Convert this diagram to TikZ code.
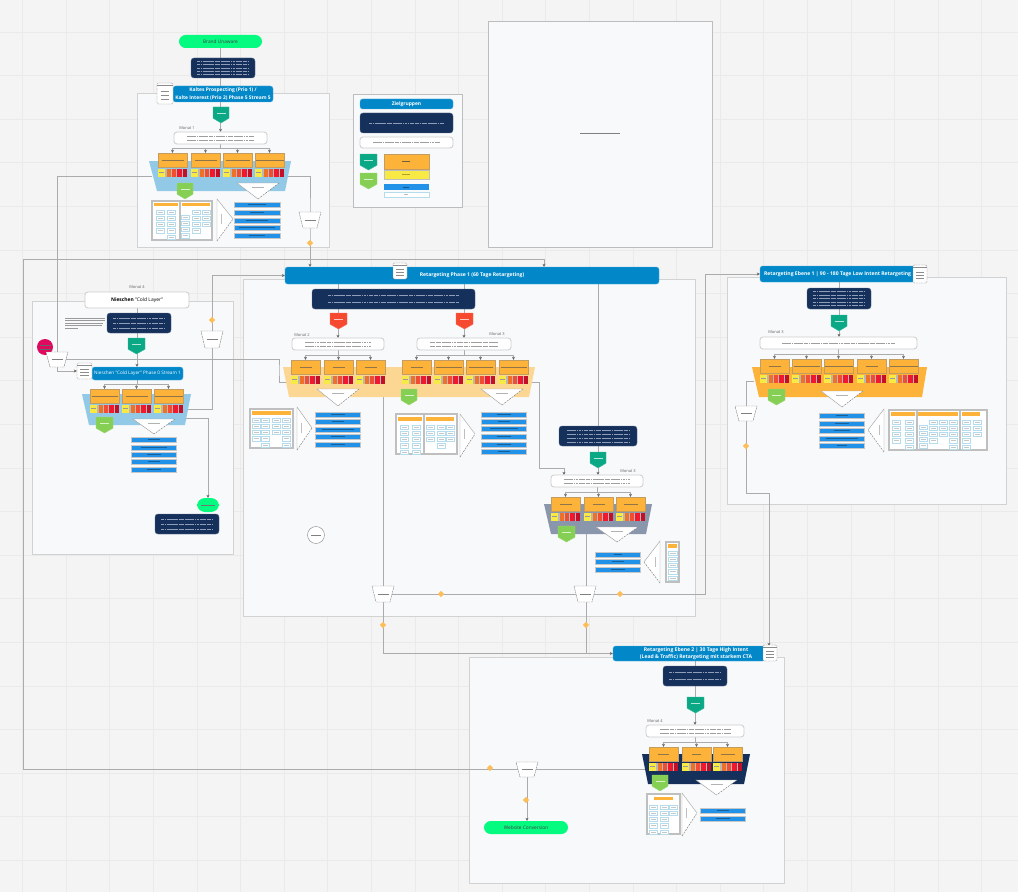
\documentclass[tikz,border=0pt]{standalone}
\usepackage{fontspec}
\setmainfont{Open Sans}
\usetikzlibrary{arrows.meta}
\pgfdeclarelayer{bg}\pgfdeclarelayer{lines}
\pgfsetlayers{bg,lines,main}
\definecolor{gridc}{HTML}{EAEAEA}\definecolor{paper}{HTML}{F4F4F4}
\definecolor{framef}{HTML}{F8F9FB}\definecolor{framed}{HTML}{D2D2D2}
\definecolor{navyc}{HTML}{15305A}\definecolor{titlec}{HTML}{0288C9}
\definecolor{teal}{HTML}{0BA886}\definecolor{lgreen}{HTML}{86CF55}
\definecolor{redsh}{HTML}{F64A30}\definecolor{orangec}{HTML}{FDB23A}
\definecolor{orangeb}{HTML}{C29C60}\definecolor{barb}{HTML}{2292E8}
\definecolor{pillg}{HTML}{05FA80}\definecolor{pinkc}{HTML}{DF0A5F}
\definecolor{lnc}{HTML}{ABABAB}\definecolor{ltxt}{HTML}{8F9DB8}
\definecolor{yel}{HTML}{F8E944}\definecolor{cellb}{HTML}{B5DCEC}
\tikzset{
 HTML/.code={\definecolor{tmpc}{HTML}{#1}\pgfkeysalso{color=tmpc}},
 every node/.style={inner sep=0pt,outer sep=0pt,align=center},
 frame/.style={fill=framef,draw=framed,line width=.7pt},
 navybox/.style={fill=navyc,rounded corners=2.2pt,draw=navyc!70!white,line width=.3pt},
 titlebar/.style={fill=titlec,rounded corners=2pt,draw=titlec!70!white,line width=.3pt,text=white,font=\fontsize{3.8}{5.2}\selectfont\bfseries},
 whitebox/.style={fill=white,rounded corners=2.2pt,draw=black!20!white,line width=.6pt},
 pillbox/.style={fill=pillg,rounded corners=5pt,draw=none,font=\fontsize{3.6}{5}\selectfont,text=black!75},
 cardbox/.style={fill=orangec,draw=orangeb,line width=.6pt},
 ln/.style={draw=lnc,line width=.75pt},
 arr/.style={draw=lnc,line width=.75pt,-{Stealth[length=2.4pt,width=2.2pt,color=black!60]}},
 docshape/.style={fill=white,draw=black!45,line width=.3pt,dash pattern=on 1.5pt off .5pt,rounded corners=1pt},
 mon/.style={font=\fontsize{3}{3.5}\selectfont,text=black!60},
 greek/.style={line width=.6pt,dash pattern=on 2.1pt off .4pt on 1.2pt off .4pt on 3pt off .4pt on .9pt off .4pt},
}
\newcommand{\bx}[7]{\node[#2,minimum width={(#5-#3)*0.75pt},minimum height={(#6-#4)*0.75pt}] (#1) at ({(#3+#5)/2},{(#4+#6)/2}) {#7};}
\newcommand{\tline}[4]{\draw[draw=#4,line width=.55pt] ({#1-(#3)/2},#2) -- ({#1+(#3)/2},#2);}
\newcommand{\navy}[6]{\bx{#1}{navybox}{#2}{#3}{#4}{#5}{}
 \foreach \k in {1,...,#6}{\draw[ltxt,greek] ({#2+(#4-#2)*.1},{#3+(#5-#3)*\k/(#6+1)}) -- ({#4-(#4-#2)*.1},{#3+(#5-#3)*\k/(#6+1)});}}
\newcommand{\wbox}[6]{\bx{#1}{whitebox}{#2}{#3}{#4}{#5}{}
 \foreach \k in {1,...,#6}{\draw[black!38,greek] ({#2+(#4-#2)*.14},{#3+(#5-#3)*\k/(#6+1)}) -- ({#4-(#4-#2)*.14},{#3+(#5-#3)*\k/(#6+1)});}}
\newcommand{\card}[4]{\bx{#1}{cardbox}{#2}{#3}{#2+29}{#3+14.5}{}
 \tline{#2+14.5}{#3+7.2}{#4}{black!25!orangeb}
 \fill[lnc!85!white] (#2,#3+15.6) rectangle (#2+29.3,#3+24.2);
 \fill[yel] (#2+.3,#3+16) rectangle (#2+7.3,#3+23.8);
 \draw[black!40,line width=.35pt] (#2+1.3,#3+18.8) -- (#2+5.6,#3+18.8);
 \fill[HTML=F07028] (#2+8.7,#3+16) rectangle (#2+12.7,#3+23.8);
 \fill[HTML=F04E30] (#2+14,#3+16) rectangle (#2+18.2,#3+23.8);
 \fill[HTML=F0182E] (#2+19.3,#3+16) rectangle (#2+23.7,#3+23.8);
 \fill[HTML=C40F28] (#2+25,#3+16) rectangle (#2+29,#3+23.8);}
\newcommand{\tz}[7]{\fill[#1] (#2,#4) -- (#3,#4) -- (#6,#7) -- (#5,#7) -- cycle;}
\newcommand{\shield}[6]{\fill[#6,draw=#6!80!white,line width=.3pt] (#2,#3) -- (#4,#3) -- (#4,{#5-(#5-#3)*.3}) -- ({(#2+#4)/2},#5) -- (#2,{#5-(#5-#3)*.3}) -- cycle;
 \coordinate (#1) at ({(#2+#4)/2},{(#3+#5)/2});
 \draw[white!70!#6,line width=.55pt] ({(#2+#4)/2-4.5},{#3+(#5-#3)*.38}) -- ({(#2+#4)/2+4.5},{#3+(#5-#3)*.38});}
\newcommand{\dtri}[4]{\fill[white] (#1,#3) -- (#2,#3) -- ({(#1+#2)/2},#4) -- cycle;
 \draw[black!35,line width=.35pt] ({(#1+#2)/2},#4) -- (#1,#3) -- (#2,#3);
 \draw[black!50,line width=.35pt,dash pattern=on 1.5pt off .8pt] (#2,#3) -- ({(#1+#2)/2},#4);
 \tline{(#1+#2)/2}{#3+4.5}{12}{black!30}}
\newcommand{\sidetri}[5]{\fill[white] (#1,#2) -- (#1,#3) -- (#4,#5) -- cycle;
 \draw[black!35,line width=.35pt] (#1,#3) -- (#1,#2) -- (#4,#5);
 \draw[black!50,line width=.35pt,dash pattern=on 1.5pt off .8pt] (#1,#3) -- (#4,#5);
 \draw[black!25,line width=.6pt] ({#1+(#4-#1)*.28},{#5-5}) -- ({#1+(#4-#1)*.28},{#5+5});}
\newcommand{\bars}[3]{\foreach \yy/\ll in {#3}{\fill[barb,draw=black!22,line width=.3pt] (#1,\yy) rectangle (#2,\yy+5.6);
 \draw[black!35!barb,line width=.55pt] ({(#1+#2)/2-\ll/2},\yy+2.8) -- ({(#1+#2)/2+\ll/2},\yy+2.8);}}
\newcommand{\funnel}[4]{\fill[white] ({#2-11},#3) -- ({#2+11},#3) -- ({#2+7},#4) -- ({#2-7},#4) -- cycle;
 \draw[black!45,line width=.35pt,dash pattern=on 1.5pt off .5pt] ({#2-11},#3) -- ({#2+11},#3) -- ({#2+7},#4) -- ({#2-7},#4) -- cycle;
 \coordinate (#1) at (#2,{(#3+#4)/2});
 \tline{#2}{{(#3+#4)/2}}{11}{black!50}}
\newcommand{\dia}[3]{\fill[orangec!85!white] (#2-3.2,#3) -- (#2,#3-3.2) -- (#2+3.2,#3) -- (#2,#3+3.2) -- cycle;\coordinate (#1) at (#2,#3);}
\newcommand{\docic}[5]{\bx{#1}{docshape}{#2}{#3}{#4}{#5}{}
 \draw[black!45,line width=.3pt] (#2,#3+2) -- (#4,#3+2);
 \foreach \k in {.4,.58,.76}{\draw[black!45,line width=.5pt] ({#2+(#4-#2)*.22},{#3+(#5-#3)*\k}) -- ({#4-(#4-#2)*.22},{#3+(#5-#3)*\k});}}
\newcommand{\board}[4]{\fill[white,draw=black!25,line width=.8pt] (#1,#2) rectangle (#3,#4);}
\newcommand{\bdiv}[3]{\draw[black!25,line width=.8pt] (#1,#2) -- (#1,#3);}
\newcommand{\obar}[4]{\fill[orangec] (#1,#2) rectangle (#3,#4);}
\newcommand{\cellcol}[5]{\foreach \k in {1,...,#4}{\draw[cellb,fill=white,line width=.45pt] (#1,{#2+(\k-1)*6.2}) rectangle (#1+#3,{#2+(\k-1)*6.2+4.3});
 \draw[black!22,line width=.4pt] (#1+1.5,{#2+(\k-1)*6.2+2.1}) -- (#1+#3-1.5,{#2+(\k-1)*6.2+2.1});}}
\newcommand{\bus}[3]{\foreach \c in {#3}{\draw[arr] (#1.south) -- (#1.south |- 0,#2) -| (\c.north);}}
\begin{document}
\begin{tikzpicture}[x=0.75pt,y=-0.75pt]
\useasboundingbox (0,0) rectangle (1018,892);
\begin{pgfonlayer}{bg}
\fill[paper] (0,0) rectangle (1018,892);
\foreach \i in {0,...,23}{\draw[gridc,line width=.6pt] ({22.5+43.6*\i},0) -- ({22.5+43.6*\i},892);}
\foreach \i in {0,...,20}{\draw[gridc,line width=.6pt] (0,{32+43.6*\i}) -- (1018,{32+43.6*\i});}
\bx{fr1}{frame}{137}{93}{329}{247}{}
\bx{fr2}{frame}{32}{301}{233}{554}{}
\bx{fr3}{frame}{243}{279}{695}{616}{}
\bx{fr4}{frame}{727}{277}{1006}{504}{}
\bx{fr5}{frame}{469}{657}{784}{883}{}
\bx{frL}{frame,draw=black!26}{353}{94}{462}{207}{}
\bx{frB}{frame,draw=black!26}{488}{21}{712}{247}{}
\end{pgfonlayer}
% big empty frame
\tline{600}{133}{40}{black!50}
% legend
\bx{lz}{titlebar,font=\fontsize{3.7}{5}\selectfont\bfseries}{360}{99}{453}{109}{Zielgruppen}
\navy{ln}{360}{113}{453}{133}{1}
\wbox{lw}{360}{137}{453}{148}{1}
\shield{ls1}{360}{154}{377}{170}{teal}
\shield{ls2}{360}{173}{377}{189}{lgreen}
\bx{lo}{cardbox}{384}{154}{429}{169}{}\tline{406}{161.5}{8}{black!40!orangeb}
\bx{ly}{fill=yel,draw=black!25}{384}{170}{429}{179}{}\tline{406}{174.5}{8}{black!30!yel}
\bx{lb}{fill=barb}{384}{184}{429}{190}{}\tline{406}{187}{6}{black!40!barb}
\bx{lwb}{fill=white,draw=cellb}{384}{192}{429}{197}{}\tline{406}{194.5}{4}{black!25}
% ---- block 1
\bx{pillA}{pillbox}{179}{35}{262}{48}{Brand Unaware}
\navy{nv1}{191}{58}{255}{78}{5}
\bx{t1}{titlebar,font=\fontsize{3.7}{5.3}\selectfont\bfseries}{173}{86}{273}{102}{Kaltes Prospecting (Prio 1) /\\Kalte Interest (Prio 2) Phase 5 Stream 5}
\docic{doc1}{157}{83}{173}{104}
\shield{s1}{213}{107}{229}{123}{teal}
\node[mon] (m1) at (187,128.5) {Monat 1};
\wbox{b1}{174}{132}{267}{144}{2}
\tz{HTML=92C9E6}{149}{291}{161}{157}{285}{191}
\coordinate (tz1w) at (152,176);\coordinate (tz1e) at (286,176);
\card{c11}{158}{153}{22}\card{c12}{191}{153}{22}\card{c13}{223}{153}{24}\card{c14}{255}{153}{28}
\shield{g1}{177}{183}{193}{199}{lgreen}
\dtri{237}{279}{183}{199}
\board{152}{201}{212}{240}\bdiv{180}{201}{240}
\obar{154}{203}{178}{206}\obar{182}{203}{210}{206}
\cellcol{156}{210}{8}{4}{}\cellcol{167}{210}{8}{5}{}\cellcol{181}{215}{8}{4}{}\cellcol{192}{210}{8}{4}{}\cellcol{202}{210}{8}{3}{}
\sidetri{217}{199}{241}{233}{219}
\bars{234}{280}{202/18,210/14,218/22,225/36,233/16}
\funnel{fn1}{310}{212}{228}
\dia{d1}{310}{243}
% ---- block Nieschen
\node[mon] (m4) at (137,287.5) {Monat 4};
\bx{bN}{whitebox,font=\fontsize{3.7}{5}\selectfont}{85}{292}{189}{308}{\textbf{Nieschen} "Cold Layer"}
\navy{nvN}{107}{313}{171}{333}{3}
\foreach \yy/\xx in {318/105,320.5/105,323/103,325.5/102,328/78}{\draw[black!40,line width=.55pt] (65,\yy) -- (\xx,\yy);}
\shield{sN}{128}{338}{145}{354}{teal}
\fill[pinkc] (45,347) circle (8);\coordinate (pk) at (45,347);
\tline{45}{345}{11}{black!60}\tline{45}{349}{11}{black!60}
\funnel{fnA}{57}{352}{367}
\bx{tN}{titlebar,font=\fontsize{3.5}{5}\selectfont}{92}{367}{183}{380}{Nieschen "Cold Layer" Phase 0 Stream 1}
\docic{docN}{77}{363}{92}{379}
\tz{HTML=92C9E6}{82}{191}{394}{89}{185}{425}
\coordinate (tzNe) at (188,409);\coordinate (tzNf) at (185,418);
\card{c41}{90}{389}{26}\card{c42}{122}{389}{22}\card{c43}{154}{389}{28}
\shield{gN}{96}{417}{113}{433}{lgreen}
\dtri{133}{175}{419}{434}
\bars{131}{176}{437/12,445/26,452/14,459/12,467/14}
\funnel{fnE}{212}{331}{348}
\dia{d2}{212}{320}
\bx{pillN}{pillbox,rounded corners=6pt}{197}{498}{219}{512}{}\tline{208}{505}{14}{black!55}
\navy{nvN2}{155}{514}{219}{534}{3}
% ---- block Retargeting Phase 1
\bx{t2}{titlebar}{285}{267}{659}{284}{Retargeting Phase 1 (60 Tage Retargeting)}
\docic{doc2}{393}{263}{407}{279}
\navy{nv2}{312}{289}{475}{309}{2}
\shield{r1}{330}{313}{347}{329}{redsh}
\shield{r2}{456}{313}{473}{329}{redsh}
\node[mon] (m2) at (302,335.5) {Monat 2};
\node[mon] (m3) at (497,334.5) {Monat 3};
\wbox{b2}{292}{338}{384}{350}{2}
\wbox{b3}{417}{338}{511}{350}{2}
\tz{HTML=FCD794}{283}{535}{367}{289}{529}{397}
\coordinate (tzOw) at (286,382);\coordinate (tzOe) at (530,382);\coordinate (tzOb) at (383,397);
\card{c21}{291}{360}{12}\card{c22}{324}{360}{12}\card{c23}{356}{360}{12}
\card{c31}{402}{360}{12}\card{c32}{434}{360}{26}\card{c33}{466}{360}{24}\card{c34}{499}{360}{26}
\dtri{317}{359}{389}{406}\dtri{481}{523}{389}{405}
\shield{g2}{401}{389}{417}{405}{lgreen}
\board{250}{409}{293}{448}\obar{252}{411}{291}{415}
\cellcol{252}{418}{8}{4}{}\cellcol{261}{418}{8}{5}{}\cellcol{272}{418}{8}{3}{}\cellcol{282}{418}{8}{5}{}
\sidetri{297}{407}{450}{312}{428}
\bars{315}{360}{412/14,419/12,427/32,434/14,442/14}
\board{396}{414}{457}{454}\bdiv{424}{414}{454}
\obar{398}{417}{422}{421}\obar{426}{417}{454}{421}
\cellcol{400}{425}{8}{5}{}\cellcol{412}{425}{8}{5}{}\cellcol{426}{425}{8}{3}{}\cellcol{437}{425}{8}{4}{}\cellcol{446}{425}{8}{3}{}
\sidetri{460}{414}{457}{475}{434}
\bars{481}{526}{412/14,419/12,426/28,434/14,442/14,449/12}
\draw[black!45,fill=white,line width=.35pt] (316,535) circle (8.5);\coordinate (circ) at (316,535);
\tline{316}{535}{10}{black!50}
% ---- block Monat 3 (gray)
\navy{nv4}{559}{426}{637}{446}{4}
\shield{s4}{590}{452}{606}{468}{teal}
\node[mon] (m5) at (628,471.5) {Monat 3};
\wbox{b4}{551}{475}{643}{487}{2}
\tz{HTML=8A96AB}{544}{652}{504}{551}{646}{534}
\coordinate (tz4b) at (586,534);
\card{c51}{551}{497}{12}\card{c52}{584}{497}{12}\card{c53}{616}{497}{14}
\shield{g4}{558}{526}{575}{542}{lgreen}
\dtri{596}{638}{527}{542}
\bars{595}{640}{552/8,559/12,567/14}
\sidetri{660}{541}{583}{644}{562}
\board{666}{542}{679}{582}\obar{668}{544}{677}{548}\cellcol{668}{551}{9}{5}{}
\funnel{fnH}{383}{586}{602}\funnel{fn3}{585}{586}{602}
\dia{d3}{441}{594}\dia{d4}{620}{594}\dia{d5}{383}{625}\dia{d6}{586}{625}
% ---- block Ebene 1
\bx{t3}{titlebar}{760}{266}{915}{282}{Retargeting Ebene 1 | 90 - 180 Tage Low Intent Retargeting}
\docic{doc3}{913}{265}{927}{283}
\navy{nv3}{807}{288}{871}{309}{5}
\shield{s3}{831}{315}{847}{331}{teal}
\node[mon] (m6) at (776,332.5) {Monat 3};
\wbox{b5}{760}{337}{917}{349}{1}
\tz{orangec}{752}{927}{367}{759}{922}{397}
\coordinate (tz3w) at (754,381);
\card{c61}{760}{359}{12}\card{c62}{792}{359}{26}\card{c63}{824}{359}{28}\card{c64}{857}{359}{12}\card{c65}{889}{359}{28}
\shield{g3}{768}{389}{785}{405}{lgreen}
\dtri{821}{863}{391}{407}
\bars{819}{864}{413/12,421/14,428/16,436/32,443/10}
\sidetri{884}{409}{452}{868}{430}
\board{889}{410}{987}{450}\bdiv{917}{410}{450}\bdiv{960}{410}{450}
\obar{891}{412}{915}{416}\obar{918}{412}{958}{416}\obar{962}{412}{980}{416}
\cellcol{892}{420}{8}{4}{}\cellcol{905}{420}{8}{5}{}\cellcol{919}{425}{8}{4}{}\cellcol{929}{420}{8}{4}{}\cellcol{939}{420}{8}{3}{}\cellcol{949}{420}{8}{5}{}\cellcol{962}{420}{8}{5}{}\cellcol{973}{420}{8}{3}{}
\funnel{fnJ}{746}{406}{421}
\dia{d7}{746}{446}
% ---- block Ebene 2
\bx{t4}{titlebar}{613}{646}{765}{661}{}
\node[text=white,font=\fontsize{3.8}{5.2}\selectfont\bfseries] (t4txt) at (696,653.5) {Retargeting Ebene 2 | 30 Tage High Intent\\(Lead \& Traffic) Retargeting mit starkem CTA};
\docic{doc4}{763}{645}{777}{661}
\navy{nv5}{663}{666}{727}{686}{2}
\shield{s5}{687}{697}{704}{713}{teal}
\node[mon] (m7) at (655,721.5) {Monat 4};
\wbox{b6}{646}{725}{744}{737}{2}
\tz{navyc}{642}{750}{754}{648}{744}{784}
\coordinate (tz5w) at (645,768);
\card{c71}{649}{747}{11}\card{c72}{682}{747}{9}\card{c73}{713}{747}{14}
\shield{g5}{652}{775}{668}{791}{lgreen}
\dtri{696}{737}{780}{795}
\board{647}{794}{680}{834}\obar{654}{797}{673}{800}
\cellcol{649}{805}{8}{5}{}\cellcol{660}{805}{8}{5}{}\cellcol{669}{805}{8}{2}{}
\sidetri{682}{793}{836}{697}{813}
\bars{700}{745}{808/12,816/14}
\funnel{fnW}{527}{762}{777}
\dia{d8}{490}{768}\dia{d9}{526}{800}
\bx{web}{pillbox}{484}{821}{568}{834}{Website Conversion}
% ---- connectors
\begin{pgfonlayer}{lines}
\coordinate (kD) at (279,370);\coordinate (kC1) at (23,259);\coordinate (kC2) at (544,259);
\coordinate (kG) at (539,468);\coordinate (kG2) at (564,468);\coordinate (kI) at (705,274);\coordinate (kJ) at (769,493);
\draw[arr] (pillA.south) -- (pillA.south |- b1.north);
\bus{b1}{148.5}{c11,c12,c13,c14}
\draw[ln] (tz1w) -| (fnA);
\draw[arr] (fnA) |- (docN.west);
\draw[ln] (fnA) -| (kD) |- (tzOw);
\draw[arr] (tz1e) -| (fn1) -- (fn1 |- t2.north);
\draw[arr] (fnW) -| (kC1) -- (kC2) -- (kC2 |- t2.north);
\draw[ln] (fnW) -- (fnW -| tz5w);
\draw[arr] (fnW) -- (fnW |- web.north);
\draw[arr] (bN.south) -- (bN.south |- tN.north);
\bus{tN}{384}{c41,c42,c43}
\draw[ln] (tzNe) -| (fnE);
\draw[arr] (fnE) |- (t2.west);
\draw[arr] (tzNf) -| (pillN.north);
\draw[arr] (b2.north |- t2.south) -- (b2.north);
\draw[arr] (b3.north |- t2.south) -- (b3.north);
\bus{b2}{355}{c21,c22,c23}
\bus{b3}{355}{c31,c32,c33,c34}
\draw[arr] (nv4.north |- t2.south) -- (nv4.north |- b4.north);
\bus{b4}{492}{c51,c52,c53}
\draw[arr] (tzOe) -| (kG) -- (kG2) -- (kG2 |- b4.north);
\draw[ln] (tzOb) -- (fnH);
\draw[arr] (fnH) |- (t4.west);
\draw[ln] (tz4b) -- (tz4b |- t4.west);
\draw[ln] (fnH) -- (fn3);
\draw[ln] (fn3) -| (kI);
\draw[arr] (kI) -- (kI -| t3.west);
\draw[arr] (t3.south -| nv3.north) -- (nv3.north |- b5.north);
\bus{b5}{354}{c61,c62,c63,c64,c65}
\draw[ln] (tz3w) -| (fnJ);
\draw[arr] (fnJ) |- (kJ) -- (kJ |- t4.north);
\draw[arr] (t4txt.south -| nv5.north) -- (nv5.north |- b6.north);
\bus{b6}{742}{c71,c72,c73}
\end{pgfonlayer}
\end{tikzpicture}
\end{document}
